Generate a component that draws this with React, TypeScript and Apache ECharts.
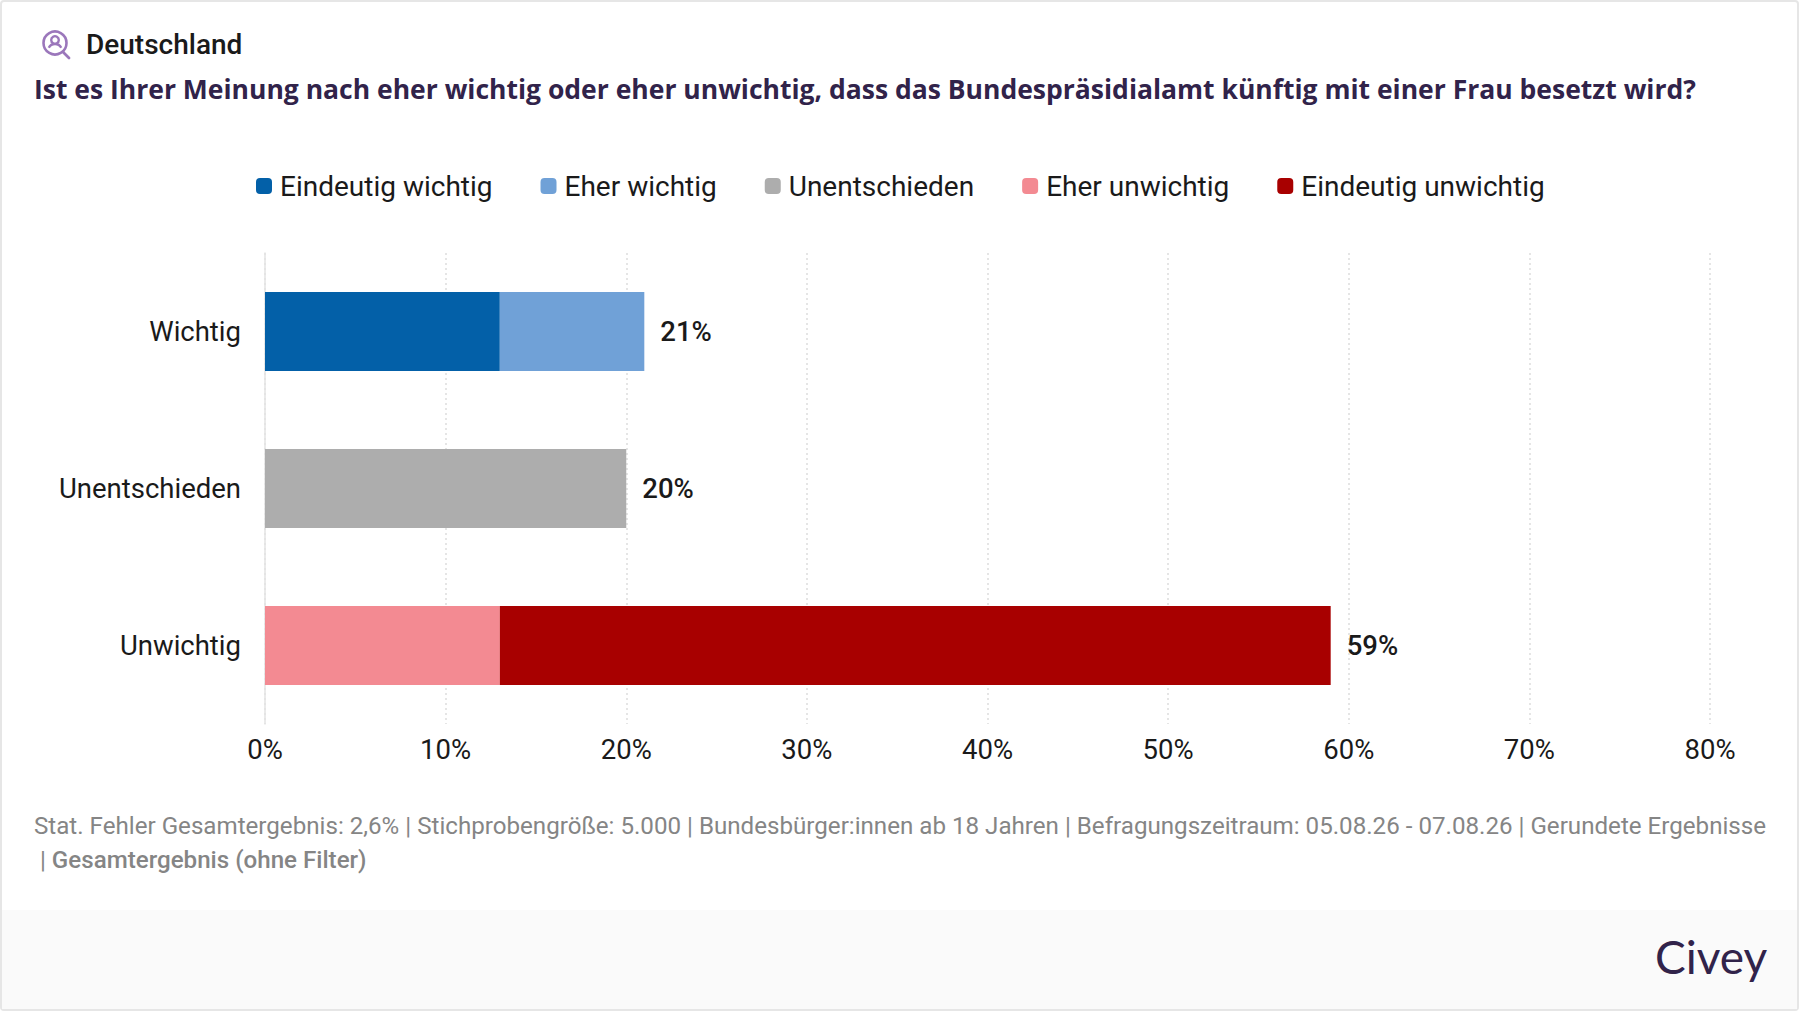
import React, { useEffect, useRef } from "react";
import * as echarts from "echarts";

const categories = ["Wichtig", "Unentschieden", "Unwichtig"];
const eindeutigWichtig = [13, null, null];
const eherWichtig = [8, null, null];
const unentschieden = [null, 20, null];
const eherUnwichtig = [null, null, 13];
const eindeutigUnwichtig = [null, null, 46];
const totals = [21, 20, 59];
const seriesNames = ["Eindeutig wichtig", "Eher wichtig", "Unentschieden", "Eher unwichtig", "Eindeutig unwichtig"];
const seriesColors = ["#0360a8", "#70a1d7", "#adadad", "#f38a92", "#a80000"];
const seriesValues = [eindeutigWichtig, eherWichtig, unentschieden, eherUnwichtig, eindeutigUnwichtig];
const showsTotal = [false, true, true, false, true];

const titleText = "Ist es Ihrer Meinung nach eher wichtig oder eher unwichtig, dass das Bundespräsidialamt künftig mit einer Frau besetzt wird?";
const regionText = "Deutschland";
const noteLine1 = "Stat. Fehler Gesamtergebnis: 2,6% | Stichprobengröße: 5.000 | Bundesbürger:innen ab 18 Jahren | Befragungszeitraum: 05.08.26 - 07.08.26 | Gerundete Ergebnisse";
const noteLine2Plain = " | ";
const noteLine2Bold = "Gesamtergebnis (ohne Filter)";

export default function App() {
  const ref = useRef<HTMLDivElement>(null);
  useEffect(() => {
    const chart = echarts.init(ref.current!, undefined, { renderer: "svg" });
    const purple = "#9b77bb";
    chart.setOption({
      animation: false,
      backgroundColor: "#ffffff",
      textStyle: { fontFamily: "Roboto" },
      grid: { left: 265, right: 1800 - 1710, top: 253, height: 471, containLabel: false },
      legend: {
        left: 256,
        top: 172,
        icon: "roundRect",
        itemWidth: 16,
        itemHeight: 16,
        itemGap: 48,
        padding: 0,
        textStyle: { fontFamily: "Roboto", fontSize: 28, color: "#1a1a1a", padding: [0, 0, 0, 3] },
        data: seriesNames,
      },
      xAxis: {
        type: "value",
        min: 0,
        max: 80,
        interval: 10,
        axisLine: { show: false },
        axisTick: { show: false },
        axisLabel: { formatter: "{value}%", fontFamily: "Roboto", fontSize: 27.5, color: "#1a1a1a", margin: 11 },
        splitLine: { show: true, lineStyle: { color: "#dddddd", width: 1.5, type: [2, 3] } },
      },
      yAxis: {
        type: "category",
        inverse: true,
        data: categories,
        axisLine: { show: true, lineStyle: { color: "#e3e3e3", width: 1.5 } },
        axisTick: { show: false },
        axisLabel: { fontFamily: "Roboto", fontSize: 27.5, color: "#1a1a1a", margin: 24 },
      },
      series: seriesNames.map((name, i) => ({
        name,
        type: "bar",
        stack: "total",
        barWidth: 79,
        data: seriesValues[i],
        itemStyle: { color: seriesColors[i] },
        label: {
          show: showsTotal[i],
          position: "right",
          distance: 16,
          fontFamily: "Roboto",
          fontWeight: 500,
          fontSize: 27.5,
          color: "#1a1a1a",
          formatter: (p: any) => `${totals[p.dataIndex]}%`,
        },
      })),
      graphic: [
        { type: "rect", silent: true, z: -10, shape: { x: 1, y: 1, width: 1797, height: 1009, r: 3 }, style: { fill: "#ffffff", stroke: "#e6e6e6", lineWidth: 2 } },
        { type: "rect", silent: true, z: -9, shape: { x: 2, y: 910, width: 1795, height: 99 }, style: { fill: "#fafafa" } },
        { type: "circle", shape: { cx: 55, cy: 43, r: 11.5 }, style: { fill: "none", stroke: purple, lineWidth: 2.6 } },
        { type: "circle", shape: { cx: 55, cy: 40, r: 3.8 }, style: { fill: "none", stroke: purple, lineWidth: 2.4 } },
        { type: "arc", shape: { cx: 55, cy: 51, r: 7, startAngle: Math.PI * 1.15, endAngle: Math.PI * 1.85 }, style: { fill: "none", stroke: purple, lineWidth: 2.4 } },
        { type: "line", shape: { x1: 63, y1: 52, x2: 69, y2: 58 }, style: { stroke: purple, lineWidth: 2.8, lineCap: "round" } },
        { type: "text", x: 86, y: 44, style: { text: regionText, font: '500 28px Roboto', fill: "#1a1a1a", textVerticalAlign: "middle" } },
        { type: "text", x: 34, y: 89, style: { text: titleText, font: '700 26.5px "Open Sans"', fill: "#31234a", textVerticalAlign: "middle" } },
        { type: "text", x: 34, y: 826, style: { text: noteLine1, font: '400 24.15px Roboto', fill: "#858585", textVerticalAlign: "middle" } },
        { type: "text", x: 34, y: 860, style: {
            text: `{a|${noteLine2Plain}}{b|${noteLine2Bold}}`,
            textVerticalAlign: "middle",
            rich: {
              a: { font: '400 24.15px Roboto', fill: "#858585" },
              b: { font: '500 24.15px Roboto', fill: "#858585" },
            },
          } },
        { type: "text", x: 1655, y: 956, style: { text: "Civey", font: '400 46px Lato', fill: "#31234a", textVerticalAlign: "middle" } },
      ],
    });
    return () => chart.dispose();
  }, []);
  return <div ref={ref} style={{ position: "absolute", left: 0, top: 0, width: 1800, height: 1012 }} />;
}
